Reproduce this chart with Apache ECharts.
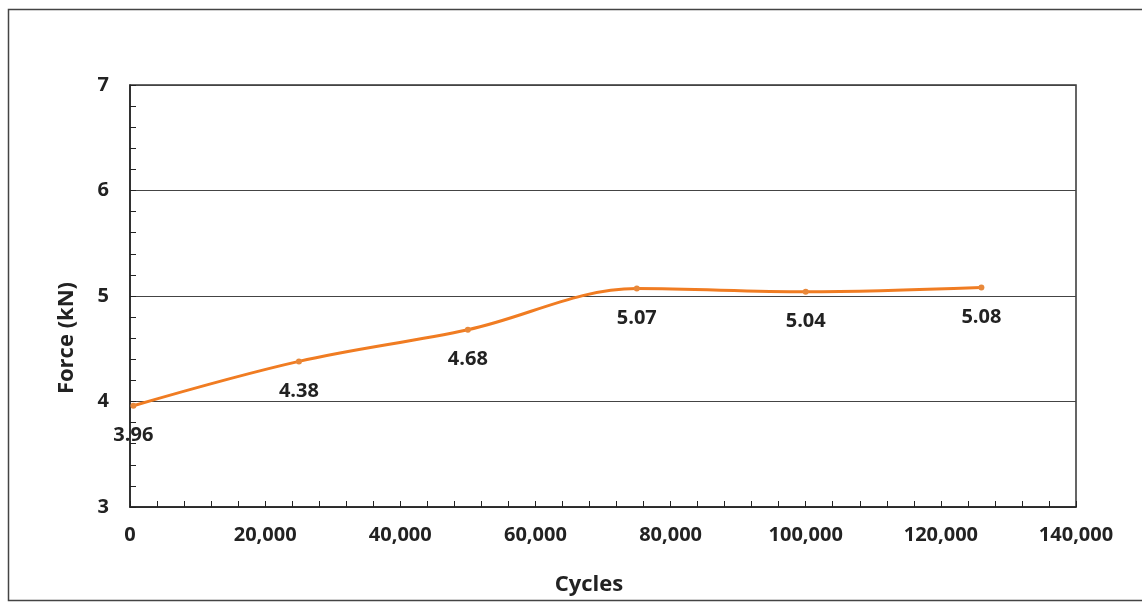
<!DOCTYPE html>
<html><head><meta charset="utf-8">
<script src="https://cdn.jsdelivr.net/npm/echarts@6/dist/echarts.min.js"></script>
<style>html,body{margin:0;padding:0;background:#fff}#c{width:1142px;height:605px}</style>
</head><body><div id="c"></div>
<script>
const cycles = [500, 25000, 50000, 75000, 100000, 126000];
const force = [3.96, 4.38, 4.68, 5.07, 5.04, 5.08];
const labels = ['3.96', '4.38', '4.68', '5.07', '5.04', '5.08'];
const xTitle = 'Cycles';
const yTitle = 'Force (kN)';

const chart = echarts.init(document.getElementById('c'));
const font = '"Open Sans", sans-serif';
chart.setOption({
  animation: false,
  backgroundColor: '#fff',
  graphic: [
    {type:'rect', shape:{x:8.5,y:9.5,width:1140,height:591}, style:{fill:'none', stroke:'#444', lineWidth:1.5}, z:-1},
    {type:'text', x:67, y:338, rotation:Math.PI/2, style:{text:yTitle, fontFamily:font, fontWeight:'bold', fontSize:22, fill:'#222', align:'center', verticalAlign:'middle'}}
  ],
  grid: {left: 130, right: 66, top: 85, bottom: 98, show: true, borderColor: '#333', borderWidth: 1.5},
  xAxis: {
    type: 'value', min: 0, max: 140000, interval: 20000,
    name: xTitle, nameLocation: 'middle', nameGap: 67,
    nameTextStyle: {fontFamily: font, fontWeight: 'bold', fontSize: 22, color: '#222', padding: [0, 28, 0, 0]},
    axisLine: {lineStyle: {color: '#222', width: 1.5}},
    axisTick: {show: true, inside: true, length: 6, lineStyle: {color: '#222'}},
    minorTick: {show: true, splitNumber: 5, length: 6, lineStyle: {color: '#222'}},
    axisLabel: {fontFamily: font, fontWeight: 'bold', fontSize: 20, color: '#222', margin: 18,
      formatter: v => v.toLocaleString('en-US')},
    splitLine: {show: false}
  },
  yAxis: {
    type: 'value', min: 3, max: 7, interval: 1,
    axisLine: {show: true, lineStyle: {color: '#222', width: 1.5}},
    axisTick: {show: true, inside: true, length: 6, lineStyle: {color: '#222'}},
    minorTick: {show: true, splitNumber: 5, length: 6, lineStyle: {color: '#222'}},
    axisLabel: {fontFamily: font, fontWeight: 'bold', fontSize: 20, color: '#222', margin: 21},
    splitLine: {show: true, lineStyle: {color: '#444', width: 1}}
  },
  series: [{
    type: 'line', smooth: 0.35,
    data: cycles.map((c, i) => [c, force[i]]),
    symbol: 'circle', symbolSize: 6,
    lineStyle: {color: '#f07c22', width: 3},
    itemStyle: {color: '#e8883a'},
    label: {show: true, position: 'bottom', distance: 17, fontFamily: font, fontWeight: 'bold', fontSize: 20, color: '#222',
      formatter: p => labels[p.dataIndex]}
  }]
});
</script></body></html>
